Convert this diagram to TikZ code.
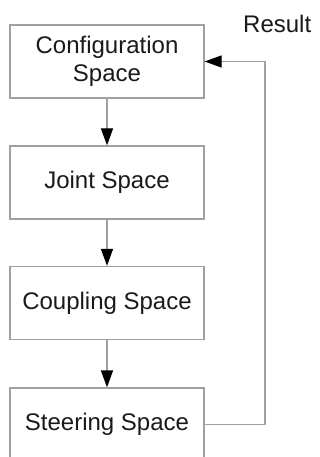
\documentclass[tikz,border=0pt]{standalone}
\usepackage{fontspec}
\setmainfont{Liberation Sans}
\usetikzlibrary{arrows.meta}
\definecolor{linegray}{HTML}{A0A0A0}
\definecolor{txt}{HTML}{1A1A1A}
\begin{document}
\begin{tikzpicture}[x=1pt,y=-1pt,
  box/.style={draw=linegray,line width=1.3pt,minimum width=194pt,minimum height=73pt,
    inner sep=0pt,align=center,text=txt,font=\fontsize{24}{28}\selectfont},
  conn/.style={draw=linegray,line width=1.3pt,-{Triangle[length=17pt,width=12pt,color=black]}},
  lbl/.style={text=txt,font=\fontsize{24}{28}\selectfont,inner sep=0pt,anchor=base west}]
\useasboundingbox (0,0) rectangle (320,457);
\clip (0,0) rectangle (320,457);
\fill[white] (0,0) rectangle (320,457);
\node[box] (cfg) at (107,61.5) {Configuration\\Space};
\node[box] (jnt) at (107,182.5) {Joint Space};
\node[box] (cpl) at (107,303) {Coupling Space};
\node[box] (str) at (107,424.5) {Steering Space};
\coordinate (c1) at (265,424.5);
\coordinate (c2) at (265,61.5);
\node[lbl] (res) at (243,33) {Result};
\draw[conn] (cfg) -- (jnt);
\draw[conn] (jnt) -- (cpl);
\draw[conn] (cpl) -- (str);
\draw[conn] (str.east) -- (c1) -- (c2) -- (cfg.east);
\end{tikzpicture}
\end{document}
